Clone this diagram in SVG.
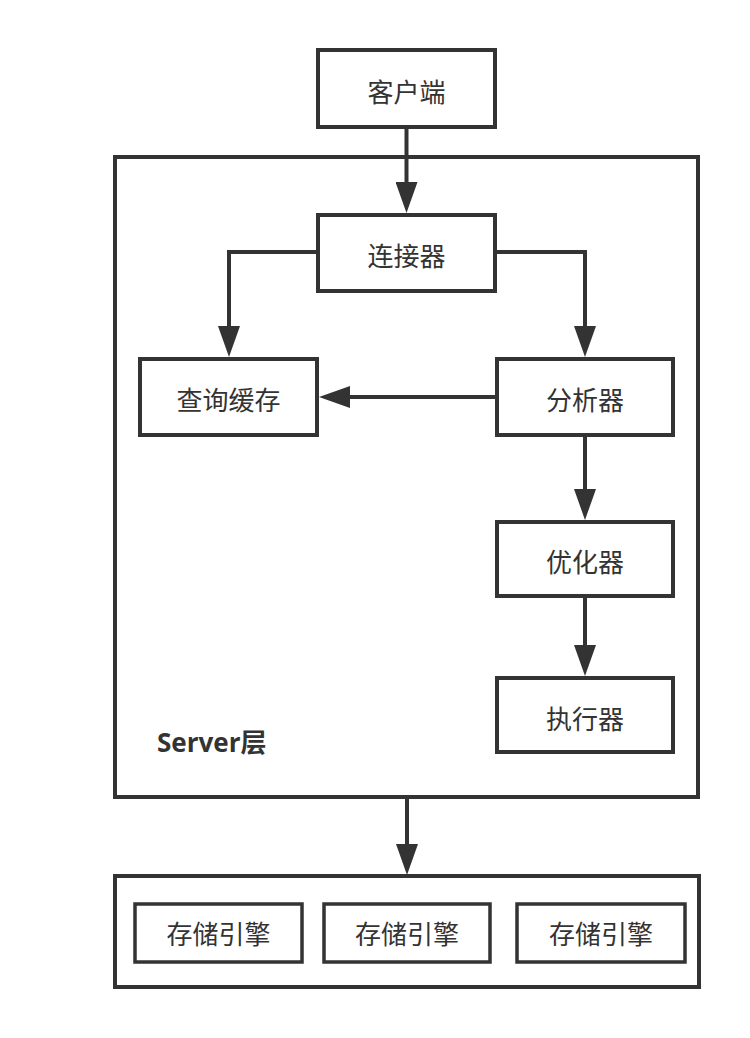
<svg xmlns="http://www.w3.org/2000/svg" width="750" height="1038" viewBox="0 0 750 1038">
<style>
.box{fill:#fff;stroke:#333;stroke-width:4}
.sbox{fill:#fff;stroke:#333;stroke-width:3.5}
.frame{fill:none;stroke:#333;stroke-width:4}
.lbl{font-family:"Noto Sans CJK SC","Open Sans",sans-serif;font-size:26px;fill:#333;text-anchor:middle}
.title{font-family:"Open Sans","Noto Sans CJK SC",sans-serif;font-size:26px;font-weight:bold;fill:#333}
.edge{fill:none;stroke:#333;stroke-width:4;marker-end:url(#arr)}
</style>
<defs>
<marker id="arr" viewBox="0 0 31 22" refX="0" refY="11" markerWidth="31" markerHeight="22" markerUnits="userSpaceOnUse" orient="auto">
<path d="M0,0 L31,11 L0,22 z" fill="#333"/>
</marker>
</defs>
<rect width="750" height="1038" fill="#fff"/>
<g id="server-layer">
<rect class="frame" x="115" y="157" width="583" height="640"/>
<text class="title" x="157" y="752">Server层</text>
</g>
<g id="storage-layer">
<rect class="frame" x="115" y="876" width="584" height="111"/>
</g>
<g id="connectors">
<path class="edge" d="M406.5,127 L406.5,182"/>
<path class="edge" d="M318,252 L229,252 L229,326"/>
<path class="edge" d="M495,252 L585,252 L585,326"/>
<path class="edge" d="M497,397 L350,397"/>
<path class="edge" d="M585,435 L585,489"/>
<path class="edge" d="M585,596 L585,645"/>
<path class="edge" d="M407,797 L407,844"/>
</g>
<g id="client">
<rect class="box" x="318" y="50" width="177" height="77"/>
<text class="lbl" x="406.5" y="101.5">客户端</text>
</g>
<g id="connector">
<rect class="box" x="318" y="215" width="177" height="76"/>
<text class="lbl" x="406.5" y="265.5">连接器</text>
</g>
<g id="query-cache">
<rect class="box" x="140" y="359" width="177" height="76"/>
<text class="lbl" x="228.5" y="410">查询缓存</text>
</g>
<g id="analyzer">
<rect class="box" x="497" y="359" width="176" height="76"/>
<text class="lbl" x="585" y="410">分析器</text>
</g>
<g id="optimizer">
<rect class="box" x="497" y="522" width="176" height="74"/>
<text class="lbl" x="585" y="571.5">优化器</text>
</g>
<g id="executor">
<rect class="box" x="497" y="678" width="176" height="74"/>
<text class="lbl" x="585" y="728.5">执行器</text>
</g>
<g id="engine1">
<rect class="sbox" x="135" y="904" width="167" height="58"/>
<text class="lbl" x="218.5" y="944">存储引擎</text>
</g>
<g id="engine2">
<rect class="sbox" x="324" y="904" width="166" height="58"/>
<text class="lbl" x="407" y="944">存储引擎</text>
</g>
<g id="engine3">
<rect class="sbox" x="517" y="904" width="168" height="58"/>
<text class="lbl" x="601" y="944">存储引擎</text>
</g>
</svg>
